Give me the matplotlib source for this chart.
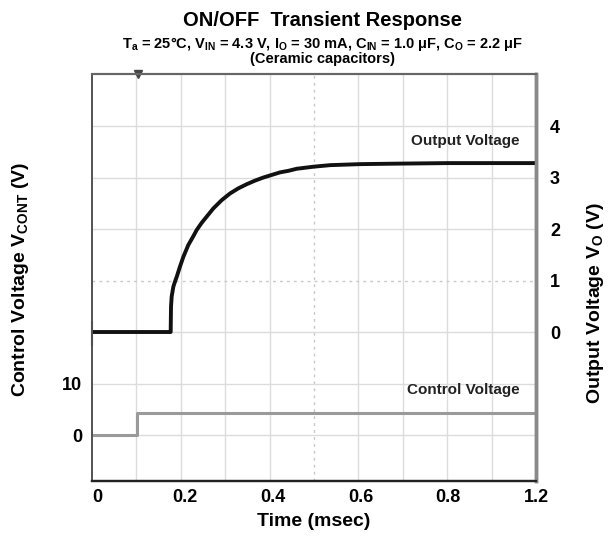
# ─────────────────────────────────────────────────────────
# plot.py
# ON/OFF Transient Response (Oszilloskop-Ansicht)
# ─────────────────────────────────────────────────────────

import numpy as np
import matplotlib
matplotlib.use("Agg")
import matplotlib.pyplot as plt

plt.rcParams["font.family"] = ["Liberation Sans", "DejaVu Sans"]
plt.rcParams["font.weight"] = "bold"
plt.rcParams["mathtext.fontset"] = "custom"
plt.rcParams["mathtext.rm"] = "Liberation Sans:bold"
plt.rcParams["mathtext.bf"] = "Liberation Sans:bold"
plt.rcParams["mathtext.it"] = "Liberation Sans:bold"


# ══════════════════════════════════════════════════════════
# DATEN
# ══════════════════════════════════════════════════════════

# Output voltage (msec, V)
t_out = [-0.0114, 0.1678, 0.1686, 0.1701, 0.1739, 0.1777, 0.1815, 0.189,
         0.1967, 0.208, 0.2194, 0.227, 0.2384, 0.2498, 0.265, 0.284,
         0.303, 0.322, 0.341, 0.360, 0.379, 0.398, 0.417, 0.436,
         0.455, 0.493, 0.531, 0.60, 0.69, 0.80, 1.0]
v_out = [0.0, 0.0, 0.49, 0.69, 0.88, 0.98, 1.07, 1.27,
         1.46, 1.69, 1.86, 1.98, 2.12, 2.24, 2.40, 2.56,
         2.69, 2.79, 2.87, 2.94, 3.00, 3.05, 3.10, 3.13,
         3.17, 3.21, 3.24, 3.26, 3.27, 3.28, 3.28]

# Control voltage (msec, V)
t_cont = [-0.0114, 0.092, 0.092, 1.0]
v_cont = [0.0, 0.0, 4.3, 4.3]

# Achsen-Beschriftungen (letztes Label steht so im Original)
x_ticks       = [0, 0.2, 0.4, 0.6, 0.8, 1.0]
x_tick_labels = ["0", "0.2", "0.4", "0.6", "0.8", "1.2"]
out_ticks     = [0, 1, 2, 3, 4]
cont_ticks    = [0, 10]
trigger_time  = 0.093

x_min, x_max = -0.0114, 1.0
out_min, out_max = -2.893, 5.01
cont_min, cont_max = -8.93, 70.1


def out_to_cont(v):
    # Output-Skala (1 V/div) -> Control-Skala (10 V/div)
    return (v + 2) * 10


# ══════════════════════════════════════════════════════════
# FIGUR
# ══════════════════════════════════════════════════════════

fig = plt.figure(figsize=(6.15, 5.47), dpi=100)

# ─── Achsen (pixelgenau wie im Original) ─────────────────
ax = fig.add_axes([92 / 615, (547 - 481) / 547, 444 / 615, 407 / 547])
ax2 = ax.twinx()

ax.set_xlim(x_min, x_max)
ax.set_ylim(cont_min, cont_max)
ax2.set_ylim(out_min, out_max)

# ─── Raster (10 x 8 Divisionen) ──────────────────────────
grid_col = "#dcdcdc"
for i, gx in enumerate(np.linspace(x_min, x_max, 11)[1:-1]):
    if i == 4:
        ax.axvline(gx, color="#c8c8c8", lw=1.0, ls=(0, (2, 3)), zorder=0)
    else:
        ax.axvline(gx, color=grid_col, lw=1.0, zorder=0)
for gy in range(-2, 5):
    if gy == 1:
        ax.axhline(out_to_cont(gy), color="#c8c8c8", lw=1.0,
                   ls=(0, (2, 3)), zorder=0)
    else:
        ax.axhline(out_to_cont(gy), color=grid_col, lw=1.0, zorder=0)

# ─── Kurven ──────────────────────────────────────────────
ax.plot(t_cont, v_cont, color="#9a9a9a", lw=2.2, solid_capstyle="butt")
ax2.plot(t_out, v_out, color="#111111", lw=2.8, solid_capstyle="butt",
         solid_joinstyle="round")

# Kanal-Marker links und Trigger-Marker oben
ax2.plot([x_min, x_min], [-0.25, 0.2], color="#222222", lw=1.5, clip_on=False)
ax2.plot([trigger_time], [out_max], marker="v", color="#444444",
         markersize=6, clip_on=False)

# ─── Beschriftungen im Plot ──────────────────────────────
ax2.text(0.963, 3.71, "Output Voltage", ha="right", va="center",
         fontsize=11, fontweight="bold", color="#222222")
ax.text(0.963, 8.7, "Control Voltage", ha="right", va="center",
        fontsize=11, fontweight="bold", color="#222222")

# ─── Ticks ───────────────────────────────────────────────
ax.set_xticks(x_ticks)
ax.set_xticklabels(x_tick_labels, fontsize=13, fontweight="bold")
ax.set_yticks(cont_ticks)
ax.set_yticklabels([str(v) for v in cont_ticks], fontsize=13, fontweight="bold")
ax2.set_yticks(out_ticks)
ax2.set_yticklabels([str(v) for v in out_ticks], fontsize=13, fontweight="bold")

ax.tick_params(axis="x", length=0, pad=6)
ax.tick_params(axis="y", length=0, pad=7)
ax2.tick_params(axis="y", length=0, pad=10)

# ─── Rahmen ──────────────────────────────────────────────
for a in (ax, ax2):
    a.spines["top"].set_color("#666666")
    a.spines["top"].set_linewidth(1.5)
    a.spines["left"].set_color("#555555")
    a.spines["left"].set_linewidth(1.3)
    a.spines["right"].set_color("#8a8a8a")
    a.spines["right"].set_linewidth(2.5)
    a.spines["bottom"].set_color("#222222")
    a.spines["bottom"].set_linewidth(1.6)

# ─── Achsentitel ─────────────────────────────────────────
ax.set_xlabel("Time (msec)", fontsize=14, fontweight="bold", labelpad=5)
fig.text(21 / 615, 1 - 279 / 547, r"Control Voltage V$_{\mathrm{CONT}}$ (V)",
         rotation=90, ha="center", va="center", fontsize=14, fontweight="bold")
fig.text(596 / 615, 1 - 303 / 547, r"Output Voltage V$_{\mathrm{O}}$ (V)",
         rotation=90, ha="center", va="center", fontsize=14, fontweight="bold")

# ─── Titel ───────────────────────────────────────────────
x_mitte = 323 / 615
fig.text(x_mitte, 1 - 26 / 547, "ON/OFF  Transient Response",
         ha="center", va="baseline", fontsize=14.5, fontweight="bold")
fig.text(x_mitte, 1 - 48 / 547,
         r"T$_{\mathrm{a}}$ = 25°C, V$_{\mathrm{IN}}$ = 4.3 V, "
         r"I$_{\mathrm{O}}$ = 30 mA, C$_{\mathrm{IN}}$ = 1.0 μF, "
         r"C$_{\mathrm{O}}$ = 2.2 μF",
         ha="center", va="baseline", fontsize=10.5, fontweight="bold")
fig.text(x_mitte, 1 - 63 / 547, "(Ceramic capacitors)",
         ha="center", va="baseline", fontsize=10.5, fontweight="bold")

plt.savefig("out.png", dpi=100)
print("✅ Grafik gespeichert: out.png")
